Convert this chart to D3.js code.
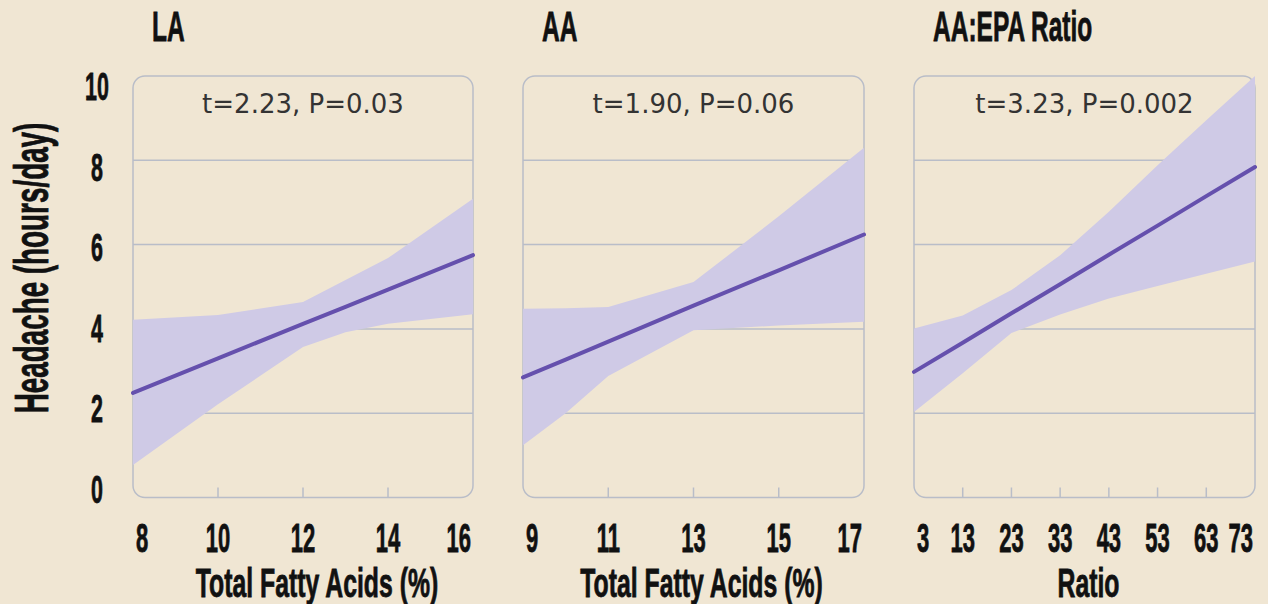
<!DOCTYPE html>
<html>
<head>
<meta charset="utf-8">
<script src="https://cdn.jsdelivr.net/npm/d3@7"></script>
<style>
    body { margin: 0; background: #f0e6d3; }
    svg { display: block; }
</style>
</head>
<body>
<svg id="chart" width="1268" height="604"></svg>
<script>
// data
const titles = ['LA', 'AA', 'AA:EPA Ratio'];
const xTitles = ['Total Fatty Acids (%)', 'Total Fatty Acids (%)', 'Ratio'];
const stats = ['t=2.23, P=0.03', 't=1.90, P=0.06', 't=3.23, P=0.002'];
const yTicks = [0, 2, 4, 6, 8, 10];

const laX = [8, 10, 12, 13, 14, 16];
const laFit = [2.48, 3.30, 4.12, 4.52, 4.93, 5.75];
const laLower = [0.77, 2.21, 3.57, 3.92, 4.12, 4.35];
const laUpper = [4.22, 4.33, 4.64, 5.16, 5.68, 7.09];
const laTicks = [8, 10, 12, 14, 16];

const aaX = [9, 10, 11, 13, 15, 17];
const aaFit = [2.85, 3.27, 3.70, 4.55, 5.39, 6.24];
const aaLower = [1.24, 2.00, 2.88, 3.97, 4.08, 4.17];
const aaUpper = [4.48, 4.49, 4.52, 5.11, 6.67, 8.30];
const aaTicks = [9, 11, 13, 15, 17];

const ratioX = [3, 13, 23, 33, 43, 53, 63, 73];
const ratioFit = [2.98, 3.67, 4.37, 5.06, 5.76, 6.45, 7.15, 7.84];
const ratioLower = [2.03, 2.95, 3.90, 4.34, 4.72, 5.02, 5.31, 5.60];
const ratioUpper = [4.01, 4.32, 4.92, 5.75, 6.78, 7.88, 8.95, 10.0];
const ratioTicks = [3, 13, 23, 33, 43, 53, 63, 73];

const panels = [
    {x: laX, fit: laFit, lo: laLower, hi: laUpper, ticks: laTicks},
    {x: aaX, fit: aaFit, lo: aaLower, hi: aaUpper, ticks: aaTicks},
    {x: ratioX, fit: ratioFit, lo: ratioLower, hi: ratioUpper, ticks: ratioTicks}
];

// layout
const left = [133, 523, 914];
const right = [473, 864, 1255];
const titleDx = [14, 8, 4];
const plotTop = 76, plotBottom = 497.5;

const bg = '#f0e6d3', gridColor = '#b9bdc8', bandColor = '#cfcae6', lineColor = '#6550ad';
const boldFont = "'Liberation Sans', Arial, sans-serif";

const svg = d3.select('#chart');
svg.append('rect').attr('width', 1268).attr('height', 604).attr('fill', bg);

const y = d3.scaleLinear().domain([0, 10]).range([plotBottom, plotTop]);
// tick labels in the source sit on a slightly tighter spacing than the grid
const yLab = d3.scaleLinear().domain([0, 10]).range([503, 100]);

// condensed bold text: draw at (0,0) and squeeze horizontally with a transform
function boldText(parent, str, x, y, size, k, anchor, rot) {
    return parent.append('text')
        .text(str)
        .attr('text-anchor', anchor || 'start')
        .attr('transform', 'translate(' + x + ',' + y + ')' + (rot ? ' rotate(' + rot + ')' : '') + ' scale(' + k + ',1)')
        .attr('fill', '#111')
        .attr('stroke', '#111')
        .attr('stroke-width', 0.8)
        .style('font-family', boldFont)
        .style('font-weight', 'bold')
        .style('font-size', size + 'px');
}

panels.forEach(function (p, i) {
    const x = d3.scaleLinear()
        .domain([p.ticks[0], p.ticks[p.ticks.length - 1]])
        .range([left[i], right[i]]);
    const g = svg.append('g').attr('class', 'panel panel-' + i);

    g.append('clipPath').attr('id', 'clip' + i)
        .append('rect')
        .attr('x', left[i]).attr('y', plotTop)
        .attr('width', right[i] - left[i]).attr('height', plotBottom - plotTop);

    // grid
    g.selectAll('.grid')
        .data(yTicks.filter(function (d) { return d > 0 && d < 10; }))
        .enter()
        .append('line')
        .attr('class', 'grid')
        .attr('x1', left[i]).attr('x2', right[i])
        .attr('y1', function (d) { return y(d); })
        .attr('y2', function (d) { return y(d); })
        .attr('stroke', gridColor)
        .attr('stroke-width', 1.5);

    // frame
    g.append('rect')
        .attr('x', left[i]).attr('y', plotTop)
        .attr('width', right[i] - left[i]).attr('height', plotBottom - plotTop)
        .attr('rx', 12).attr('ry', 12)
        .attr('fill', 'none')
        .attr('stroke', gridColor)
        .attr('stroke-width', 1.5);

    // inner ticks
    g.selectAll('.tick')
        .data(p.ticks.slice(1, -1))
        .enter()
        .append('line')
        .attr('x1', function (d) { return x(d); })
        .attr('x2', function (d) { return x(d); })
        .attr('y1', plotBottom).attr('y2', plotBottom - 10)
        .attr('stroke', gridColor)
        .attr('stroke-width', 1.5);

    const rows = p.x.map(function (v, j) {
        return {x: v, fit: p.fit[j], lo: p.lo[j], hi: p.hi[j]};
    });

    const area = d3.area()
        .x(function (d) { return x(d.x); })
        .y0(function (d) { return y(d.lo); })
        .y1(function (d) { return y(d.hi); });

    g.append('path')
        .datum(rows)
        .attr('d', area)
        .attr('fill', bandColor)
        .attr('clip-path', 'url(#clip' + i + ')');

    const line = d3.line()
        .x(function (d) { return x(d.x); })
        .y(function (d) { return y(d.fit); });

    g.append('path')
        .datum(rows)
        .attr('d', line)
        .attr('fill', 'none')
        .attr('stroke', lineColor)
        .attr('stroke-width', 4)
        .attr('stroke-linecap', 'round');

    // stat text
    g.append('text')
        .text(stats[i])
        .attr('x', (left[i] + right[i]) / 2)
        .attr('y', 113)
        .attr('text-anchor', 'middle')
        .attr('fill', '#333')
        .style('font-family', "'DejaVu Sans', sans-serif")
        .style('font-size', '26px');

    // x tick labels
    p.ticks.forEach(function (d, j) {
        let xx = x(d), anchor = 'middle';
        if (j === 0) { xx += 3; anchor = 'start'; }
        if (j === p.ticks.length - 1) { xx -= 2; anchor = 'end'; }
        boldText(g, d, xx, 552, 40, 0.55, anchor);
    });

    // panel title
    boldText(g, titles[i], left[i] + 19, 41, 43, 0.57, 'start');

    // x axis title
    boldText(g, xTitles[i], (left[i] + right[i]) / 2 + titleDx[i], 597, 40, 0.62, 'middle');
});

// y tick labels (first panel only)
yTicks.forEach(function (d) {
    boldText(svg, d, 97, yLab(d), 39, 0.55, 'middle');
});

boldText(svg, 'Headache (hours/day)', 48, 268, 48, 0.58, 'middle', -90);
</script>
</body>
</html>
